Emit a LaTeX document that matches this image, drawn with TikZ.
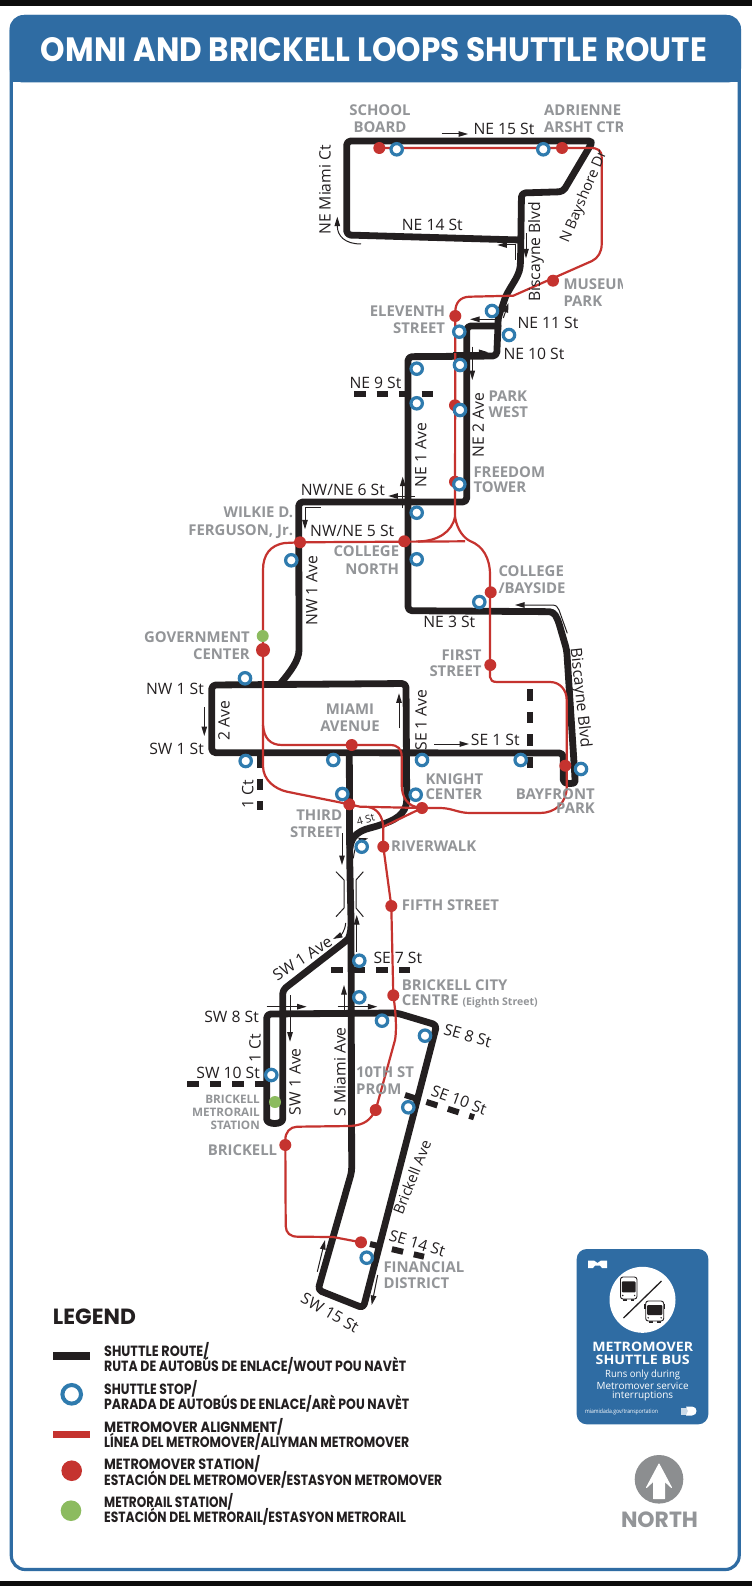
\documentclass[tikz,border=0pt]{standalone}
\usepackage{fontspec}
\usepackage{graphicx}
\usetikzlibrary{arrows.meta}
\setmainfont{Open Sans}
\newfontfamily\opensans{Open Sans}
\newfontfamily\popp{Poppins}
\definecolor{ink}{HTML}{231F20}
\definecolor{hblue}{HTML}{2F6CA3}
\definecolor{sblue}{HTML}{2F7BAE}
\definecolor{mred}{HTML}{C5332F}
\definecolor{mgreen}{HTML}{8CBB5F}
\definecolor{lgray}{HTML}{939598}
\newcommand\fitx[2]{\setbox0\hbox{#2}\pgfmathsetmacro\xr{#1/\the\wd0}\scalebox{\xr}[1]{\box0}}
\newcommand\legf{\popp\bfseries\fontsize{14.8}{15}\selectfont}
\tikzset{
  route/.style={draw=ink,line width=6.8pt,line join=round,line cap=round,rounded corners=4pt},
  metro/.style={draw=mred,line width=2.2pt,line join=round},
  stopmark/.style={circle,draw=sblue,line width=3.2pt,fill=white,minimum size=11.4pt,inner sep=0pt},
  stationmark/.style={circle,fill=mred,minimum size=12pt,inner sep=0pt},
  railmark/.style={circle,fill=mgreen,minimum size=12pt,inner sep=0pt},
  arr/.style={draw=ink,line width=1pt,-{Triangle[length=9.5pt,width=5.5pt]}},
  thinl/.style={draw=ink,line width=1pt},
  dashst/.style={draw=ink,line width=6pt,dash pattern=on 11.5pt off 11pt},
  st/.style={font=\fontsize{15.7}{18}\selectfont,text=ink,inner sep=0pt},
  lab/.style={font=\bfseries\fontsize{14.9}{#1}\selectfont,text=lgray,inner sep=0pt},
  lab/.default=17,
  leg/.style={anchor=west,inner sep=0pt,text=ink},
  wt/.style={text=white,inner sep=0pt}
}
\begin{document}
\begin{tikzpicture}[x=1pt,y=-1pt]
\useasboundingbox (0,0) rectangle (752,1586);
\fill[white] (0,0) rectangle (752,1586);
\fill[black!95] (0,0) rectangle (752,5.7);
\fill[black!95] (0,1580.7) rectangle (752,1586);
% card
\draw[hblue,line width=3.2pt,rounded corners=14pt] (11.3,16.5) rectangle (739.2,1569.5);
\fill[hblue,rounded corners=14pt] (9.6,15) -- (741,15) -- (741,50) -- (741,82.5) -- (9.6,82.5) -- cycle;
\fill[hblue] (9.6,60) rectangle (741,82.5);
\node[wt] (title) at (374,50) {\resizebox{666pt}{24pt}{\popp\bfseries OMNI AND BRICKELL LOOPS SHUTTLE ROUTE}};

% street dashes
\draw[dashst] (354,393.7) -- (433,393.7);
\draw[dashst] (260,756) -- (260,810);
\draw[dashst] (530,689.3) -- (530,769);
\draw[dashst] (331.3,970) -- (410.7,970);
\draw[dashst] (187.3,1084.3) -- (265,1084.3);
\draw[dashst] (405,1095) -- (474,1117.3);
\draw[dashst] (370,1244) -- (424,1256.7);

% shuttle route
\draw[route] (520,240) -- (346.7,235) -- (346.7,141) -- (593,141) -- (563,191.7) -- (521.5,193) -- (520.5,263)
  .. controls (519,278) and (507,290) .. (503,305) .. controls (500,312) and (498,318) .. (498,326)
  -- (496.7,356) -- (408,356.7) -- (408,610.7) -- (553.3,611.7) -- (558,620) -- (566.7,650) -- (575,778)
  .. controls (575,784) and (563.3,785) .. (563.3,776) -- (563.3,753) -- (211.7,752.7) -- (211.7,685) -- (406,683.5)
  -- (406.7,796) .. controls (406.7,815) and (392,821) .. (380,825) .. controls (368,829) and (352,830) .. (350,848);
\draw[route] (498,326) -- (466.7,326) -- (466.7,502) -- (298.7,502) -- (299,646) .. controls (299,660) and (291,671) .. (280,684);
\draw[route] (349.3,752.7) -- (349.7,860) -- (351,920) -- (351.7,1171.7) -- (318,1290) -- (363.3,1308)
  -- (436.7,1025) -- (396.7,1013) -- (266.7,1014) -- (266.7,1115) .. controls (266.7,1125) and (282.7,1125) .. (282.7,1115)
  -- (282.7,990) -- (345,941.7) .. controls (349,938) and (351,932) .. (351,925);

% metromover alignment
\draw[metro] (379.3,148) -- (590,148) .. controls (598,148) and (601.7,150) .. (601.7,158) -- (601.7,244)
  .. controls (601.7,252) and (598,258) .. (592,261) -- (513.3,295.7) -- (470,296.7)
  .. controls (460,296.7) and (455.3,303) .. (455.3,312) -- (455,516.7)
  .. controls (452,532) and (438,541) .. (418,541.5);
\draw[metro] (455,516.7) .. controls (457,530) and (464,538) .. (470,541) .. controls (483,546) and (490,558) .. (490,575)
  -- (490,677) .. controls (490.5,680) and (492,682) .. (497,682) -- (550,682) .. controls (560,682) and (566.7,690) .. (566.7,700)
  -- (566.7,787) .. controls (566.7,803) and (555,813) .. (540,813) -- (470,813) .. controls (458,813) and (452,808) .. (440,808)
  -- (422,808) -- (360,806.7) -- (349.3,804.3);
\draw[metro] (465,541.3) -- (300,542.3) -- (285,543) .. controls (270,545) and (263,555) .. (263,570)
  -- (263,766) .. controls (263,780) and (275,789) .. (287,791.7) -- (349.3,804.3);
\draw[metro] (263,725) .. controls (264,738) and (270,745) .. (282,745) -- (390,745) .. controls (398,745) and (401.7,749) .. (401.7,757)
  -- (401.7,785) .. controls (402,796) and (406,807) .. (422,808);
\draw[metro] (422,808) -- (383.3,826.7) -- (383.3,846.7) -- (391.3,906) -- (393.3,995.3) .. controls (397,1020) and (396,1035) .. (395,1040)
  -- (375.7,1110) .. controls (370,1120) and (365,1125) .. (350,1126) -- (297,1126.7) .. controls (290,1127) and (285.3,1132) .. (285.3,1140)
  -- (285.7,1226) .. controls (286,1233) and (290,1236.7) .. (298,1236.7) -- (333,1237) -- (361,1242.3);
\draw[metro] (368,807) .. controls (376,808) and (383,815) .. (383.3,828);

% arrows
\draw[arr] (441.7,134) -- (468,134);
\draw[arr] (361,244) .. controls (345,244) and (337.3,236) .. (337.3,216.7);
\draw[arr] (515,260) -- (515,245) -- (497.3,245);
\draw[arr] (526,233.3) -- (526,258.3);
\draw[arr] (503.3,318) -- (508.5,303);
\draw[arr] (495,319.3) -- (470,319.3);
\draw[arr] (453.3,352.3) -- (488.3,352.3);
\draw[arr] (472.3,346.7) -- (472.3,380);
\draw[arr] (402.7,508.3) -- (402.7,476.7);
\draw[arr] (415,496) -- (388.3,496);
\draw[arr] (320.7,507.3) -- (305,507.3) -- (305,529.3);
\draw[arr] (567.3,633.3) -- (559,610) .. controls (558,607) and (556,605) .. (552,605) -- (515,605);
\draw[arr] (204.3,707.3) -- (204.3,736);
\draw[arr] (399,728.3) -- (399,693.3);
\draw[arr] (434.3,744) -- (469,744);
\draw[arr] (342,833.3) -- (342,865);
\draw[arr] (353.3,858.3) .. controls (355,846) and (358,841) .. (368.3,838.3);
\draw[thinl] (336,871.7) -- (344,880) -- (344,908) -- (336,916.7);
\draw[thinl] (363.3,871.7) -- (356,880) -- (356,908) -- (363.3,916.7);
\draw[arr] (356.7,952) -- (356.7,915);
\draw[arr] (345.7,923) .. controls (345,931) and (341,935) .. (333,939);
\draw[arr] (266.7,1006.7) -- (306.7,1006.7);
\draw[arr] (290,995) -- (290,1041.7);
\draw[arr] (337.7,1006.7) -- (377.3,1006.7);
\draw[arr] (344,1013.3) -- (344,985);
\draw[arr] (317.3,1271.7) -- (325,1240);
\draw[arr] (377.7,1275) -- (371.7,1305);

% stations
\foreach \x/\y [count=\i] in {379.3/148,562/148,553/280.7,455.3/316,455/405.3,455/481.7,300/542.3,404.3/541.3,490.7/592.3,490.3/665,351.7/745,565.3/765.7,349.3/804.3,422/808,383.3/846.7,391.3/906,393.3/995.3,375.7/1110,285.3/1145,361/1242.3}
  \node[stationmark] (station\i) at (\x,\y) {};
\node[stationmark,minimum size=14pt] (govcenter) at (263,650) {};
\node[railmark] (rail1) at (262.7,636) {};
\node[railmark] (rail2) at (275,1102) {};

% stops
\foreach \x/\y [count=\i] in {396.7/149.3,543.3/149.3,492/311,509/335,459.3/331.7,460/365,416.7/368.7,416.7/403.3,460/410,459.3/484.3,416.7/512.7,291.3/560.3,416.7/559.3,479.3/602,245/678.3,245.7/761,333.3/760,422/760,520.7/760,581/769,342.3/794,415.7/794.7,361.7/846.7,359.3/960.7,359.3/997.3,382/1020.7,425/1035.7,271.3/1075,408.3/1107.3,366.7/1257.7}
  \node[stopmark] (stop\i) at (\x,\y) {};

% street labels
\node[st,anchor=west] (ne15) at (473.3,129.3) {NE 15 St};
\node[st,rotate=90] (nemiami) at (325,190) {NE Miami Ct};
\node[st] (ne14) at (432.3,225.3) {NE 14 St};
\node[st,rotate=90] (bisc1) at (536,251.7) {Biscayne Blvd};
\node[st,rotate=67,font=\fontsize{14.5}{18}\selectfont] (bayshore) at (584,197) {N Bayshore Dr};
\node[st,anchor=west] (ne11) at (517.3,322.7) {NE 11 St};
\node[st,anchor=west] (ne10) at (503.3,354) {NE 10 St};
\node[st,anchor=west] (ne9) at (349.3,382.7) {NE 9 St};
\node[st,rotate=90] (ne2) at (478.3,425) {NE 2 Ave};
\node[st,rotate=90] (ne1) at (420.7,455) {NE 1 Ave};
\node[st,anchor=west] (ne6) at (300.7,490) {NW/NE 6 St};
\node[st,anchor=west] (ne5) at (310,531.3) {NW/NE 5 St};
\node[st,rotate=90] (nw1a) at (311.7,590.7) {NW 1 Ave};
\node[st] (ne3) at (449.3,621.7) {NE 3 St};
\node[st,rotate=-84] (bisc2) at (580,698) {Biscayne Blvd};
\node[st,anchor=east] (nw1) at (204,689) {NW 1 St};
\node[st,anchor=east] (sw1) at (204,749) {SW 1 St};
\node[st,rotate=90] (ave2) at (224,720.7) {2 Ave};
\node[st,rotate=90] (se1a) at (421,720) {SE 1 Ave};
\node[st,anchor=west] (se1) at (470.7,740) {SE 1 St};
\node[st,rotate=90] (ct1a) at (247.7,794) {1 Ct};
\node[st,rotate=15,font=\fontsize{10.5}{12}\selectfont] (st4) at (365.7,819.3) {4 St};
\node[st,anchor=west] (se7) at (373.3,957.7) {SE 7 St};
\node[st,rotate=33] (sw1ad) at (302.3,958.3) {SW 1 Ave};
\node[st,anchor=east] (sw8) at (259,1016.7) {SW 8 St};
\node[st,rotate=-16] (se8) at (467.7,1035.7) {SE 8 St};
\node[st,rotate=90] (ct1b) at (255,1048.3) {1 Ct};
\node[st,rotate=90] (sw1av) at (295,1081.7) {SW 1 Ave};
\node[st,rotate=90] (smiami) at (340,1071.7) {S Miami Ave};
\node[st,anchor=east] (sw10) at (260,1073.3) {SW 10 St};
\node[st,rotate=-20] (se10) at (459,1100) {SE 10 St};
\node[st,rotate=68.4,font=\fontsize{14.8}{18}\selectfont] (brave) at (412,1177.3) {Brickell Ave};
\node[st,rotate=-17] (se14) at (417.3,1243.3) {SE 14 St};
\node[st,rotate=-30] (sw15) at (330,1312.7) {SW 15 St};

% station labels
\node[lab,align=center] (lschool) at (380,119) {SCHOOL\\BOARD};
\begin{scope}
\clip (0,0) rectangle (622.7,1586);
\node[lab,align=left,anchor=west] (larsht) at (544,119) {ADRIENNE\\ARSHT CTR};
\node[lab,align=left,anchor=west] (lmuseum) at (563.3,293) {MUSEUM\\PARK};
\end{scope}
\node[lab,align=right,anchor=east] (leleven) at (445.3,319.5) {ELEVENTH\\STREET};
\node[lab=15.7,align=left,anchor=west] (lpark) at (488.3,404) {PARK\\WEST};
\node[lab=15.3,align=left,anchor=west] (lfreedom) at (473.3,480) {FREEDOM\\TOWER};
\node[lab=18,align=right,anchor=east] (lwilkie) at (293.3,523) {WILKIE D.\\FERGUSON, Jr.};
\node[lab=17.7,align=right,anchor=east] (lcnorth) at (399.3,560) {COLLEGE\\NORTH};
\node[lab=17.3,align=left,anchor=west] (lbayside) at (498.3,579.7) {COLLEGE\\/BAYSIDE};
\node[lab=17.6,align=right,anchor=east] (lgov) at (250,645.5) {GOVERNMENT\\CENTER};
\node[lab=16.7,align=right,anchor=east] (lfirst) at (481.7,663.3) {FIRST\\STREET};
\node[lab=16.7,align=center] (lmiami) at (350,717.7) {MIAMI\\AVENUE};
\node[lab=15.3,align=left,anchor=west] (lknight) at (425.3,786.7) {KNIGHT\\CENTER};
\node[lab=14.6,align=right,anchor=east] (lbayfront) at (595,801) {BAYFRONT\\PARK};
\node[lab=17.7,align=right,anchor=east] (lthird) at (342.3,823.8) {THIRD\\STREET};
\node[lab,anchor=west] (lriver) at (391,846) {RIVERWALK};
\node[lab,anchor=west] (lfifth) at (401.7,905.3) {FIFTH STREET};
\node[lab=14.4,align=left,anchor=west] (lcity) at (401.7,994) {BRICKELL CITY\\CENTRE {\fontsize{10.5}{12}\selectfont (Eighth Street)}};
\node[lab=17,align=left,anchor=west] (lprom) at (356,1080.8) {10TH ST\\PROM};
\node[font=\bfseries\fontsize{11.7}{13}\selectfont,text=lgray,inner sep=0pt,align=right,anchor=east] (lbrm) at (260,1112) {BRICKELL\\METRORAIL\\STATION};
\node[lab,anchor=east] (lbrickell) at (277.3,1150) {BRICKELL};
\node[lab=16.6,align=left,anchor=west] (lfin) at (383.3,1275) {FINANCIAL\\DISTRICT};

% legend
\node[leg] (legendt) at (52.7,1316.7) {\fitx{83}{\popp\bfseries\fontsize{22}{24}\selectfont LEGEND}};
\fill[ink] (53.3,1352.3) rectangle (90,1359.7);
\node[leg] (l1a) at (104,1351.3) {\fitx{105}{\legf SHUTTLE ROUTE/}};
\node[leg] (l1b) at (104,1366) {\fitx{302}{\legf RUTA DE AUTOBÚS DE ENLACE/WOUT POU NAVÈT}};
\node[circle,draw=sblue,line width=4pt,fill=white,minimum size=18.6pt,inner sep=0pt] (lstop) at (71.7,1394.3) {};
\node[leg] (l2a) at (104,1389) {\fitx{93}{\legf SHUTTLE STOP/}};
\node[leg] (l2b) at (104,1404) {\fitx{305}{\legf PARADA DE AUTOBÚS DE ENLACE/ARÈ POU NAVÈT}};
\fill[mred] (53.3,1431) rectangle (90,1438.4);
\node[leg] (l3a) at (104,1426.7) {\fitx{179}{\legf METROMOVER ALIGNMENT/}};
\node[leg] (l3b) at (104,1441.3) {\fitx{305}{\legf LÍNEA DEL METROMOVER/ALIYMAN METROMOVER}};
\node[circle,fill=mred,minimum size=20.6pt,inner sep=0pt] (lstation) at (71.7,1470.7) {};
\node[leg] (l4a) at (104,1464.3) {\fitx{156}{\legf METROMOVER STATION/}};
\node[leg] (l4b) at (104,1479.3) {\fitx{338}{\legf ESTACIÓN DEL METROMOVER/ESTASYON METROMOVER}};
\node[circle,fill=mgreen,minimum size=20.6pt,inner sep=0pt] (lrail) at (71,1510.7) {};
\node[leg] (l5a) at (104,1501.7) {\fitx{129}{\legf METRORAIL STATION/}};
\node[leg] (l5b) at (104,1517) {\fitx{301.7}{\legf ESTACIÓN DEL METRORAIL/ESTASYON METRORAIL}};

% info box
\fill[hblue,rounded corners=10pt] (576.7,1249) rectangle (708.3,1424.3);
\fill[white] (588,1268) -- (588,1260.5) -- (594,1260.5) -- (597.5,1263) -- (601,1260.5) -- (607,1260.5) -- (607,1268) -- (602,1268) -- (600,1265.5) -- (595,1265.5) -- (593,1268) -- cycle;
\fill[white] (642.5,1299.8) circle (33);
% buses
\foreach \bx/\by/\w/\h in {628.7/1288/16.5/22,654.7/1311/18/20}{
  \fill[ink] (\bx-0.34*\w,\by+0.5*\h-1) rectangle (\bx-0.12*\w,\by+0.5*\h+1.6);
  \fill[ink] (\bx+0.12*\w,\by+0.5*\h-1) rectangle (\bx+0.34*\w,\by+0.5*\h+1.6);
  \draw[ink,fill=white,line width=0.9pt,rounded corners=2.5pt] (\bx-0.5*\w,\by-0.5*\h) rectangle (\bx+0.5*\w,\by+0.5*\h);
  \fill[ink,rounded corners=1pt] (\bx-0.42*\w,\by-0.3*\h) rectangle (\bx+0.42*\w,\by+0.2*\h);
  \fill[ink] (\bx-0.36*\w,\by+0.34*\h) circle (0.8);
  \fill[ink] (\bx+0.36*\w,\by+0.34*\h) circle (0.8);
}
\fill[ink] (644.2,1304) rectangle (645.7,1309);
\fill[ink] (663.7,1304) rectangle (665.2,1309);
\draw[ink,line width=1.3pt] (623.5,1318) -- (661.5,1281);
\node[wt] (bm) at (642.7,1346.7) {\fitx{100.7}{\bfseries\fontsize{13}{14}\selectfont METROMOVER}};
\node[wt] (bs) at (642.7,1360) {\fitx{94}{\bfseries\fontsize{13}{14}\selectfont SHUTTLE BUS}};
\node[wt] (br1) at (642.7,1375) {\fitx{75}{\fontsize{10}{11}\selectfont Runs only during}};
\node[wt] (br2) at (642.7,1385.5) {\fitx{92}{\fontsize{10}{11}\selectfont Metromover service}};
\node[wt] (br3) at (642.7,1396) {\fitx{61}{\fontsize{10}{11}\selectfont interruptions}};
\node[wt] (burl) at (621.5,1412.3) {\fitx{73}{\fontsize{6}{7}\selectfont miamidada.gov/transportation}};
\fill[white!75!hblue] (680.5,1407.5) rectangle (688,1414.5);
\fill[white] (686,1406.5) -- (692,1406.5) .. controls (698,1406.5) and (698,1415.5) .. (692,1415.5) -- (686,1415.5) -- (688,1411) -- cycle;

% north
\fill[lgray!95!black] (659,1479.3) circle (24.3);
\fill[white,draw=white,line width=1pt,line join=round] (659,1464) -- (671.5,1487.5) -- (664.5,1481) -- (664.5,1498.5) -- (653.5,1498.5) -- (653.5,1481) -- (646.5,1487.5) -- cycle;
\node[text=lgray,inner sep=0pt] (north) at (659.5,1520) {\fitx{77}{\popp\bfseries\fontsize{22}{24}\selectfont NORTH}};
\end{tikzpicture}
\end{document}
